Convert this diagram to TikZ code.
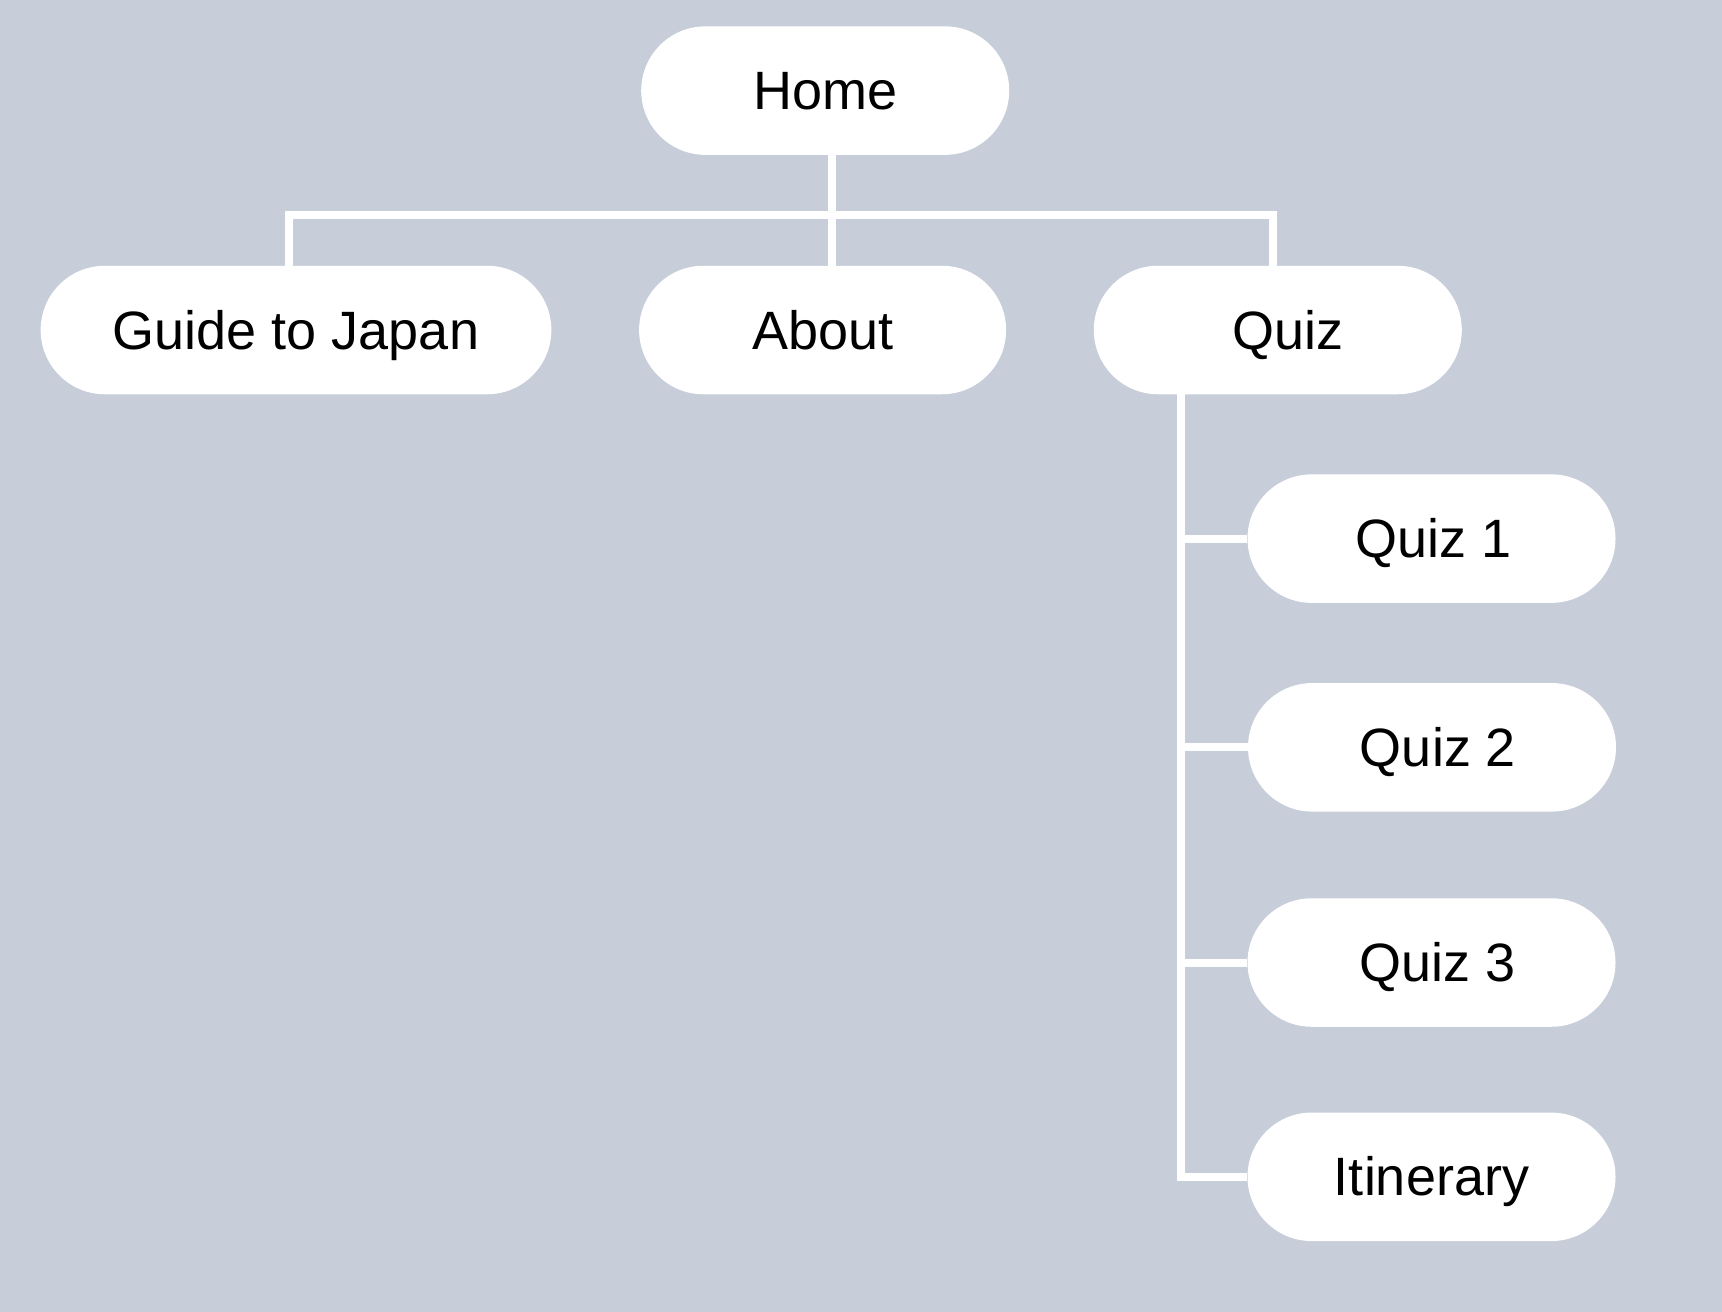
\documentclass[tikz,border=0pt]{standalone}
\usepackage{fontspec}
\setmainfont{Liberation Sans}
\usetikzlibrary{calc}
\pgfdeclarelayer{bg}
\pgfsetlayers{bg,main}
\definecolor{bgcol}{RGB}{199,206,218}
\tikzset{
  pill/.style={rectangle, rounded corners=64.2pt, fill=white, inner sep=0pt,
    minimum height=128.5pt, minimum width=368pt, text height=38pt, text depth=0pt,
    font=\fontsize{54pt}{60pt}\selectfont, text=black},
  conn/.style={draw=white, line width=8pt, line join=miter}
}
\begin{document}
\begin{tikzpicture}[x=1pt,y=-1pt]
\useasboundingbox (0,0) rectangle (1722,1312);
\node[pill] (home) at (825.2,90.6) {Home};
\node[pill, minimum width=510.7pt] (guide) at (296,330) {Guide to Japan};
\node[pill, minimum width=367pt] (about) at (822.6,330) {About};
\node[pill] (quiz) at (1277.8,330) {\hspace*{20pt}Quiz};
\node[pill] (q1) at (1431.5,538.6) {\hspace*{4pt}Quiz 1};
\node[pill] (q2) at (1432,747.3) {\hspace*{12pt}Quiz 2};
\node[pill] (q3) at (1431.5,962.5) {\hspace*{12pt}Quiz 3};
\node[pill] (itin) at (1431.5,1176.8) {Itinerary};
\coordinate (hub) at (831.5,215);
\coordinate (gl) at (288.5,215);
\coordinate (qr) at (1272.5,215);
\coordinate (qv) at (1181,1176.8);
\begin{pgfonlayer}{bg}
\fill[bgcol] (0,0) rectangle (1722,1312);
\draw[conn] (home.south -| hub) -- (about.north -| hub);
\draw[conn] (guide.north -| gl) -- (gl) -- (qr) -- (quiz.north -| qr);
\draw[conn] (quiz.south -| qv) -- (qv) -- (itin.west);
\draw[conn] (qv |- q1.west) -- (q1.west);
\draw[conn] (qv |- q2.west) -- (q2.west);
\draw[conn] (qv |- q3.west) -- (q3.west);
\end{pgfonlayer}
\end{tikzpicture}
\end{document}
